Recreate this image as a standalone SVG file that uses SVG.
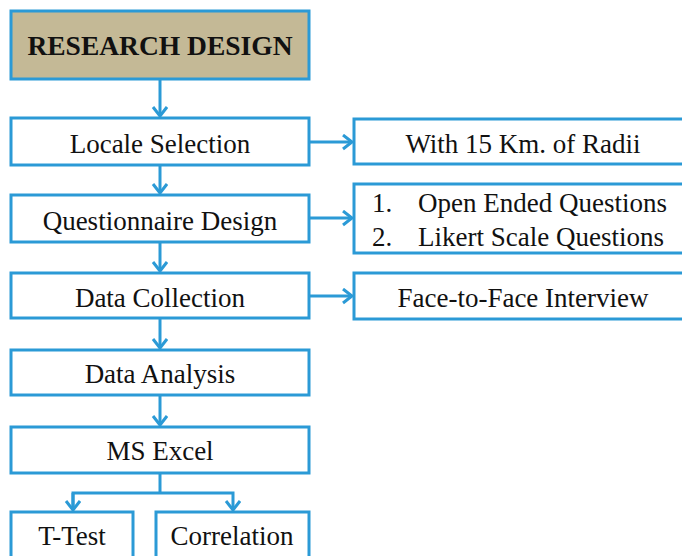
<svg xmlns="http://www.w3.org/2000/svg" width="682" height="556" viewBox="0 0 682 556">
<style>
.box{fill:#fff;stroke:#2B9AD6;stroke-width:3}
.head{fill:#C4B996;stroke:#2B9AD6;stroke-width:3}
.t{font-size:27px;fill:#111;text-anchor:middle}
.c{fill:none;stroke:#2B9AD6;stroke-width:3}
</style>
<defs>
<marker id="ah" markerUnits="userSpaceOnUse" markerWidth="20" markerHeight="20" refX="11" refY="8" orient="auto">
<path d="M2,1 L11,8 L2,15" fill="none" stroke="#2B9AD6" stroke-width="3"/>
</marker>
</defs>
<rect width="682" height="556" fill="#fff"/>
<g id="connectors">
<line class="c" x1="160" y1="80" x2="160" y2="116" marker-end="url(#ah)"/>
<line class="c" x1="160" y1="165" x2="160" y2="193" marker-end="url(#ah)"/>
<line class="c" x1="160" y1="242" x2="160" y2="271" marker-end="url(#ah)"/>
<line class="c" x1="160" y1="318" x2="160" y2="348" marker-end="url(#ah)"/>
<line class="c" x1="160" y1="395" x2="160" y2="425" marker-end="url(#ah)"/>
<polyline class="c" points="160,473 160,493"/>
<polyline class="c" points="73,510 73,493 233,493 233,510" marker-end="url(#ah)"/>
<line class="c" x1="73" y1="493" x2="73" y2="510" marker-end="url(#ah)"/>
<line class="c" x1="309" y1="142" x2="352" y2="142" marker-end="url(#ah)"/>
<line class="c" x1="309" y1="218" x2="352" y2="218" marker-end="url(#ah)"/>
<line class="c" x1="309" y1="296" x2="352" y2="296" marker-end="url(#ah)"/>
</g>
<g font-family="Liberation Serif, Times New Roman, serif">
<g id="research-design">
<rect class="head" x="11" y="11" width="298" height="68"/>
<text class="t" x="160" y="55" font-weight="bold" style="font-size:27.5px">RESEARCH DESIGN</text>
</g>
<g id="locale-selection">
<rect class="box" x="11" y="118" width="298" height="47"/>
<text class="t" x="160" y="153">Locale Selection</text>
</g>
<g id="questionnaire-design">
<rect class="box" x="11" y="195" width="298" height="47"/>
<text class="t" x="160" y="230">Questionnaire Design</text>
</g>
<g id="data-collection">
<rect class="box" x="11" y="273" width="298" height="45"/>
<text class="t" x="160" y="307">Data Collection</text>
</g>
<g id="data-analysis">
<rect class="box" x="11" y="350" width="298" height="45"/>
<text class="t" x="160" y="383">Data Analysis</text>
</g>
<g id="ms-excel">
<rect class="box" x="11" y="427" width="298" height="46"/>
<text class="t" x="160" y="460">MS Excel</text>
</g>
<g id="t-test">
<rect class="box" x="11" y="512" width="122" height="60"/>
<text class="t" x="72" y="545">T-Test</text>
</g>
<g id="correlation">
<rect class="box" x="156" y="512" width="153" height="60"/>
<text class="t" x="232" y="545">Correlation</text>
</g>
<g id="radii">
<rect class="box" x="354" y="119" width="340" height="45"/>
<text class="t" x="523" y="153">With 15 Km. of Radii</text>
</g>
<g id="questions">
<rect class="box" x="354" y="184" width="340" height="69"/>
<text class="t" x="372" y="212" text-anchor="start" style="text-anchor:start">1.</text>
<text class="t" x="418" y="212" text-anchor="start" style="text-anchor:start">Open Ended Questions</text>
<text class="t" x="372" y="246" text-anchor="start" style="text-anchor:start">2.</text>
<text class="t" x="418" y="246" text-anchor="start" style="text-anchor:start">Likert Scale Questions</text>
</g>
<g id="interview">
<rect class="box" x="354" y="273" width="340" height="46"/>
<text class="t" x="523" y="307">Face-to-Face Interview</text>
</g>
</g>
</svg>
